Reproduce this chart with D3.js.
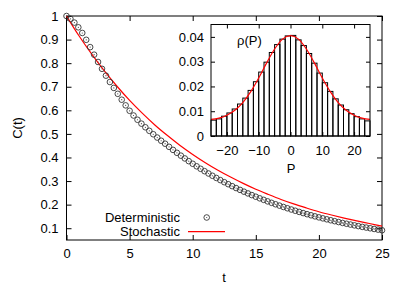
<!DOCTYPE html>
<html>
<head>
<meta charset="utf-8">
<script src="https://cdn.jsdelivr.net/npm/d3@7"></script>
<style>
  body { margin: 0; background: #fff; }
  svg { display: block; }
  text { font-family: "Liberation Sans", Arial, sans-serif; font-size: 13px; fill: #000; }
</style>
</head>
<body>
<div id="chart"></div>
<script>
// deterministic C(t), sampled every 25/80 in t
const detStep = 0.3125
const detValues = [
  1.000, 0.988, 0.972, 0.952, 0.928, 0.899, 0.868, 0.836, 0.805, 0.776,
  0.747, 0.720, 0.695, 0.670, 0.645, 0.621, 0.598, 0.578, 0.560, 0.5435,
  0.528, 0.513, 0.4985, 0.4845, 0.471, 0.4584, 0.4452, 0.4323, 0.4198, 0.4077,
  0.3959, 0.3844, 0.3733, 0.3625, 0.3520, 0.3419, 0.3320, 0.3224, 0.3131, 0.3040,
  0.2952, 0.2867, 0.2784, 0.2703, 0.2625, 0.2549, 0.2476, 0.2404, 0.2335, 0.2267,
  0.2202, 0.2138, 0.2076, 0.2016, 0.1958, 0.1901, 0.1846, 0.1793, 0.1741, 0.1691,
  0.1642, 0.1594, 0.1548, 0.1503, 0.1460, 0.1418, 0.1377, 0.1337, 0.1298, 0.1261,
  0.1224, 0.1189, 0.1155, 0.1121, 0.1089, 0.1057, 0.1027, 0.0997, 0.0968, 0.0940,
  0.0913
]

// stochastic C(t) at t = 0,1,...,25
const stoTimes = d3.range(0, 26)
const stoValues = [
  1.000, 0.915, 0.838, 0.767, 0.702, 0.642, 0.588, 0.538, 0.493, 0.451,
  0.413, 0.378, 0.346, 0.317, 0.290, 0.265, 0.243, 0.222, 0.203, 0.186,
  0.170, 0.156, 0.143, 0.131, 0.120, 0.109
]

// inset: histogram of P, 30 bins over [-25, 25]
const binEdgesP = d3.range(0, 31).map(i => -25 + i * 50 / 30)
const histValues = [
  0.0064, 0.0069, 0.0080, 0.0093, 0.0109, 0.0129, 0.0153, 0.0184, 0.0219, 0.0258,
  0.0298, 0.0337, 0.0369, 0.0391, 0.0404, 0.0406, 0.0388, 0.0365, 0.0333, 0.0294,
  0.0254, 0.0215, 0.0180, 0.0150, 0.0125, 0.0106, 0.0090, 0.0078, 0.0069, 0.0061
]
const rhoP = [-25, -22.5, -20, -17.5, -15, -12.5, -10, -7.5, -5, -2.5, 0,
              2.5, 5, 7.5, 10, 12.5, 15, 17.5, 20, 22.5, 25]
const rhoValues = [0.0067, 0.0072, 0.0084, 0.0104, 0.0135, 0.0179, 0.0234, 0.0295, 0.0351, 0.0391, 0.0405,
                   0.0391, 0.0351, 0.0295, 0.0234, 0.0179, 0.0135, 0.0104, 0.0084, 0.0072, 0.0067]

const mainXTicks = [0, 5, 10, 15, 20, 25]
const mainYTicks = [0.1, 0.2, 0.3, 0.4, 0.5, 0.6, 0.7, 0.8, 0.9, 1]
const insetXTicks = [-20, -10, 0, 10, 20]
const insetYTicks = [0, 0.01, 0.02, 0.03, 0.04]

const width = 407, height = 285

const svg = d3.select('#chart').append('svg')
  .attr('width', width)
  .attr('height', height)

// main plot frame
const box = {left: 66.5, right: 382, top: 16, bottom: 240}

const x = d3.scaleLinear().domain([0, 25]).range([box.left, box.right])
const y = d3.scaleLinear().domain([0.05, 1]).range([box.bottom, box.top])

const drawAxis = (axis, tx, ty, labels) => {
  const g = svg.append('g')
    .attr('transform', `translate(${tx},${ty})`)
    .call(axis)
  g.select('.domain').remove()
  g.selectAll('line').attr('stroke', '#000').attr('stroke-width', 1)
  g.selectAll('text').style('font-size', '13px').attr('fill', '#000')
  if (!labels) g.selectAll('text').remove()
  return g
}

const fmtY = d => d === 1 ? '1' : d3.format('.1f')(d)

drawAxis(d3.axisBottom(x).tickValues(mainXTicks).tickSize(-5).tickPadding(9).tickFormat(d3.format('d')), 0, box.bottom, true)
drawAxis(d3.axisTop(x).tickValues(mainXTicks).tickSize(-5), 0, box.top, false)
drawAxis(d3.axisLeft(y).tickValues(mainYTicks).tickSize(-5).tickPadding(8).tickFormat(fmtY), box.left, 0, true)
drawAxis(d3.axisRight(y).tickValues(mainYTicks).tickSize(-5), box.right, 0, false)

svg.append('rect')
  .attr('x', box.left).attr('y', box.top)
  .attr('width', box.right - box.left).attr('height', box.bottom - box.top)
  .attr('fill', 'none').attr('stroke', '#000')

// stochastic line
const line = d3.line().x(d => x(d[0])).y(d => y(d[1])).curve(d3.curveMonotoneX)
svg.append('path')
  .datum(stoTimes.map((t, i) => [t, stoValues[i]]))
  .attr('d', line)
  .attr('fill', 'none')
  .attr('stroke', '#ff0000')
  .attr('stroke-width', 1.2)

// deterministic points
const detPts = svg.append('g').selectAll('g')
  .data(detValues.map((v, i) => [i * detStep, v]))
  .enter().append('g')
  .attr('transform', d => `translate(${x(d[0])},${y(d[1])})`)
detPts.append('circle')
  .attr('r', 2.8)
  .attr('fill', 'none')
  .attr('stroke', '#333')
  .attr('stroke-width', 0.9)
detPts.append('circle')
  .attr('r', 0.6)
  .attr('fill', '#444')

// legend
const legend = svg.append('g')
legend.append('text')
  .attr('x', 180).attr('y', 217.5).attr('dy', '0.35em')
  .attr('text-anchor', 'end')
  .text('Deterministic')
legend.append('circle')
  .attr('cx', 206.7).attr('cy', 217.5).attr('r', 2.8)
  .attr('fill', 'none').attr('stroke', '#333').attr('stroke-width', 0.9)
legend.append('circle')
  .attr('cx', 206.7).attr('cy', 217.5).attr('r', 0.6).attr('fill', '#444')
legend.append('text')
  .attr('x', 180).attr('y', 231.7).attr('dy', '0.35em')
  .attr('text-anchor', 'end')
  .text('Stochastic')
legend.append('line')
  .attr('x1', 188).attr('x2', 225).attr('y1', 231.7).attr('y2', 231.7)
  .attr('stroke', '#ff0000').attr('stroke-width', 1.2)

// axis titles
svg.append('text')
  .attr('transform', 'translate(17,128) rotate(-90)')
  .attr('text-anchor', 'middle').attr('dy', '0.35em')
  .text('C(t)')
svg.append('text')
  .attr('x', 224).attr('y', 277).attr('dy', '0.35em')
  .attr('text-anchor', 'middle')
  .text('t')

// ---- inset ----
const ibox = {left: 211, right: 370, top: 24.5, bottom: 136}
const xi = d3.scaleLinear().domain([-25, 25]).range([ibox.left, ibox.right])
const yi = d3.scaleLinear().domain([0, 0.045]).range([ibox.bottom, ibox.top])

svg.append('rect')
  .attr('x', ibox.left).attr('y', ibox.top)
  .attr('width', ibox.right - ibox.left).attr('height', ibox.bottom - ibox.top)
  .attr('fill', '#fff')

svg.append('g').selectAll('rect')
  .data(histValues)
  .enter().append('rect')
  .attr('x', (d, i) => xi(binEdgesP[i]))
  .attr('y', d => yi(d))
  .attr('width', (d, i) => xi(binEdgesP[i + 1]) - xi(binEdgesP[i]))
  .attr('height', d => yi(0) - yi(d))
  .attr('fill', 'none')
  .attr('stroke', '#000')
  .attr('stroke-width', 1)

const lineI = d3.line().x(d => xi(d[0])).y(d => yi(d[1])).curve(d3.curveMonotoneX)
svg.append('path')
  .datum(rhoP.map((p, i) => [p, rhoValues[i]]))
  .attr('d', lineI)
  .attr('fill', 'none')
  .attr('stroke', '#ff0000')
  .attr('stroke-width', 1.2)

drawAxis(d3.axisBottom(xi).tickValues(insetXTicks).tickSize(-4).tickPadding(9.5).tickFormat(d3.format('d')), 0, ibox.bottom, true)
drawAxis(d3.axisTop(xi).tickValues(insetXTicks).tickSize(-4), 0, ibox.top, false)
drawAxis(d3.axisLeft(yi).tickValues(insetYTicks).tickSize(-4).tickPadding(7).tickFormat(d => d === 0 ? '0' : d3.format('.2f')(d)), ibox.left, 0, true)
drawAxis(d3.axisRight(yi).tickValues(insetYTicks).tickSize(-4), ibox.right, 0, false)

svg.append('rect')
  .attr('x', ibox.left).attr('y', ibox.top)
  .attr('width', ibox.right - ibox.left).attr('height', ibox.bottom - ibox.top)
  .attr('fill', 'none').attr('stroke', '#000')

svg.append('text')
  .attr('x', 237).attr('y', 40).attr('dy', '0.35em')
  .text('ρ(P)')
svg.append('text')
  .attr('x', 291).attr('y', 168).attr('dy', '0.35em')
  .attr('text-anchor', 'middle')
  .text('P')
</script>
</body>
</html>
